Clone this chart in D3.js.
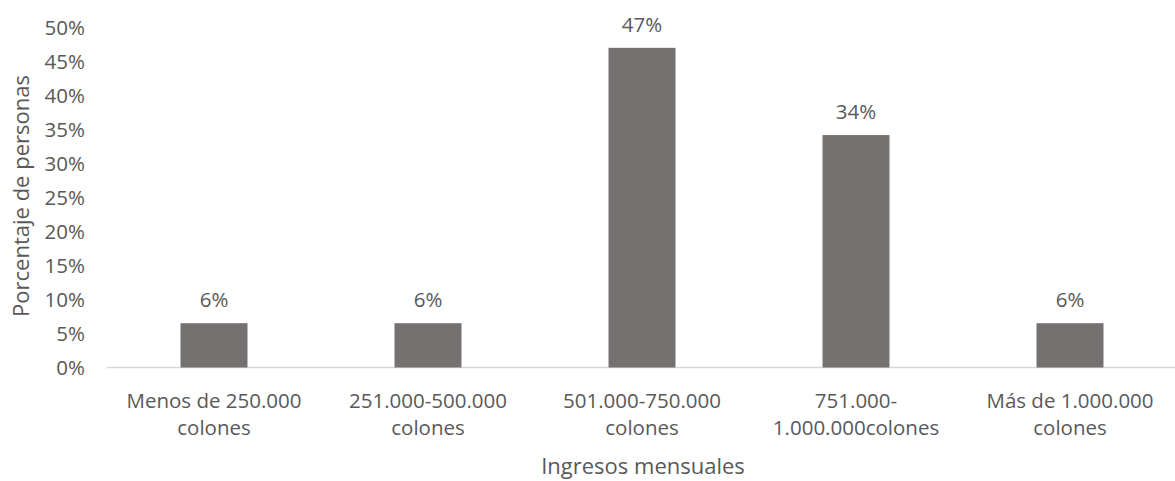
<!DOCTYPE html>
<html><head><meta charset="utf-8">
<script src="https://cdn.jsdelivr.net/npm/d3@7"></script>
<style>body{margin:0;background:#fff}text{font-family:"Open Sans",sans-serif;fill:#595959}</style>
</head><body>
<svg id="c" width="1175" height="481"></svg>
<script>
const categories = [["Menos de 250.000","colones"],["251.000-500.000","colones"],["501.000-750.000","colones"],["751.000-","1.000.000colones"],["Más de 1.000.000","colones"]];
const values = [6.5, 6.5, 46.9, 34.1, 6.5];
const valueLabels = ["6%","6%","47%","34%","6%"];
const yTicks = [0,5,10,15,20,25,30,35,40,45,50];
const yTitle = "Porcentaje de personas";
const xTitle = "Ingresos mensuales";

const svg = d3.select("#c");
const x = d3.scaleBand().domain(d3.range(categories.length)).range([107,1177]).padding(0);
const y = d3.scaleLinear().domain([0,50]).range([367.5,26.7]);
const bw = x.bandwidth()*0.313;

svg.append("line").attr("x1",107).attr("x2",1177).attr("y1",y(0)).attr("y2",y(0))
  .attr("stroke","#d9d9d9").attr("stroke-width",1.3);

const yAxis = svg.append("g").attr("transform","translate(85,0)")
  .call(d3.axisLeft(y).tickValues(yTicks).tickFormat(d=>d+"%").tickSize(0).tickPadding(0));
yAxis.select(".domain").remove();
yAxis.selectAll("text").style("font-size","20.5px").attr("fill","#595959").attr("dy","0.36em");

svg.selectAll("rect.bar").data(values).enter().append("rect")
  .attr("x",(d,i)=>x(i)+x.bandwidth()/2-bw/2).attr("width",bw)
  .attr("y",d=>y(d)).attr("height",d=>y(0)-y(d)).attr("fill","#767171");

svg.selectAll("text.vl").data(values).enter().append("text")
  .attr("x",(d,i)=>x(i)+x.bandwidth()/2).attr("y",d=>y(d)-16)
  .attr("text-anchor","middle").style("font-size","20.5px").text((d,i)=>valueLabels[i]);

const cl = svg.selectAll("text.cl").data(categories).enter().append("text")
  .attr("text-anchor","middle").style("font-size","20.5px");
cl.each(function(d,i){
  const t=d3.select(this);
  d.forEach((line,j)=>t.append("tspan").attr("x",x(i)+x.bandwidth()/2).attr("y",407.5+j*27).text(line));
});

svg.append("text").attr("x",643).attr("y",474).attr("text-anchor","middle").style("font-size","22px").text(xTitle);
svg.append("text").attr("transform","translate(29,196) rotate(-90)").attr("text-anchor","middle").style("font-size","22px").text(yTitle);
</script>
</body></html>
